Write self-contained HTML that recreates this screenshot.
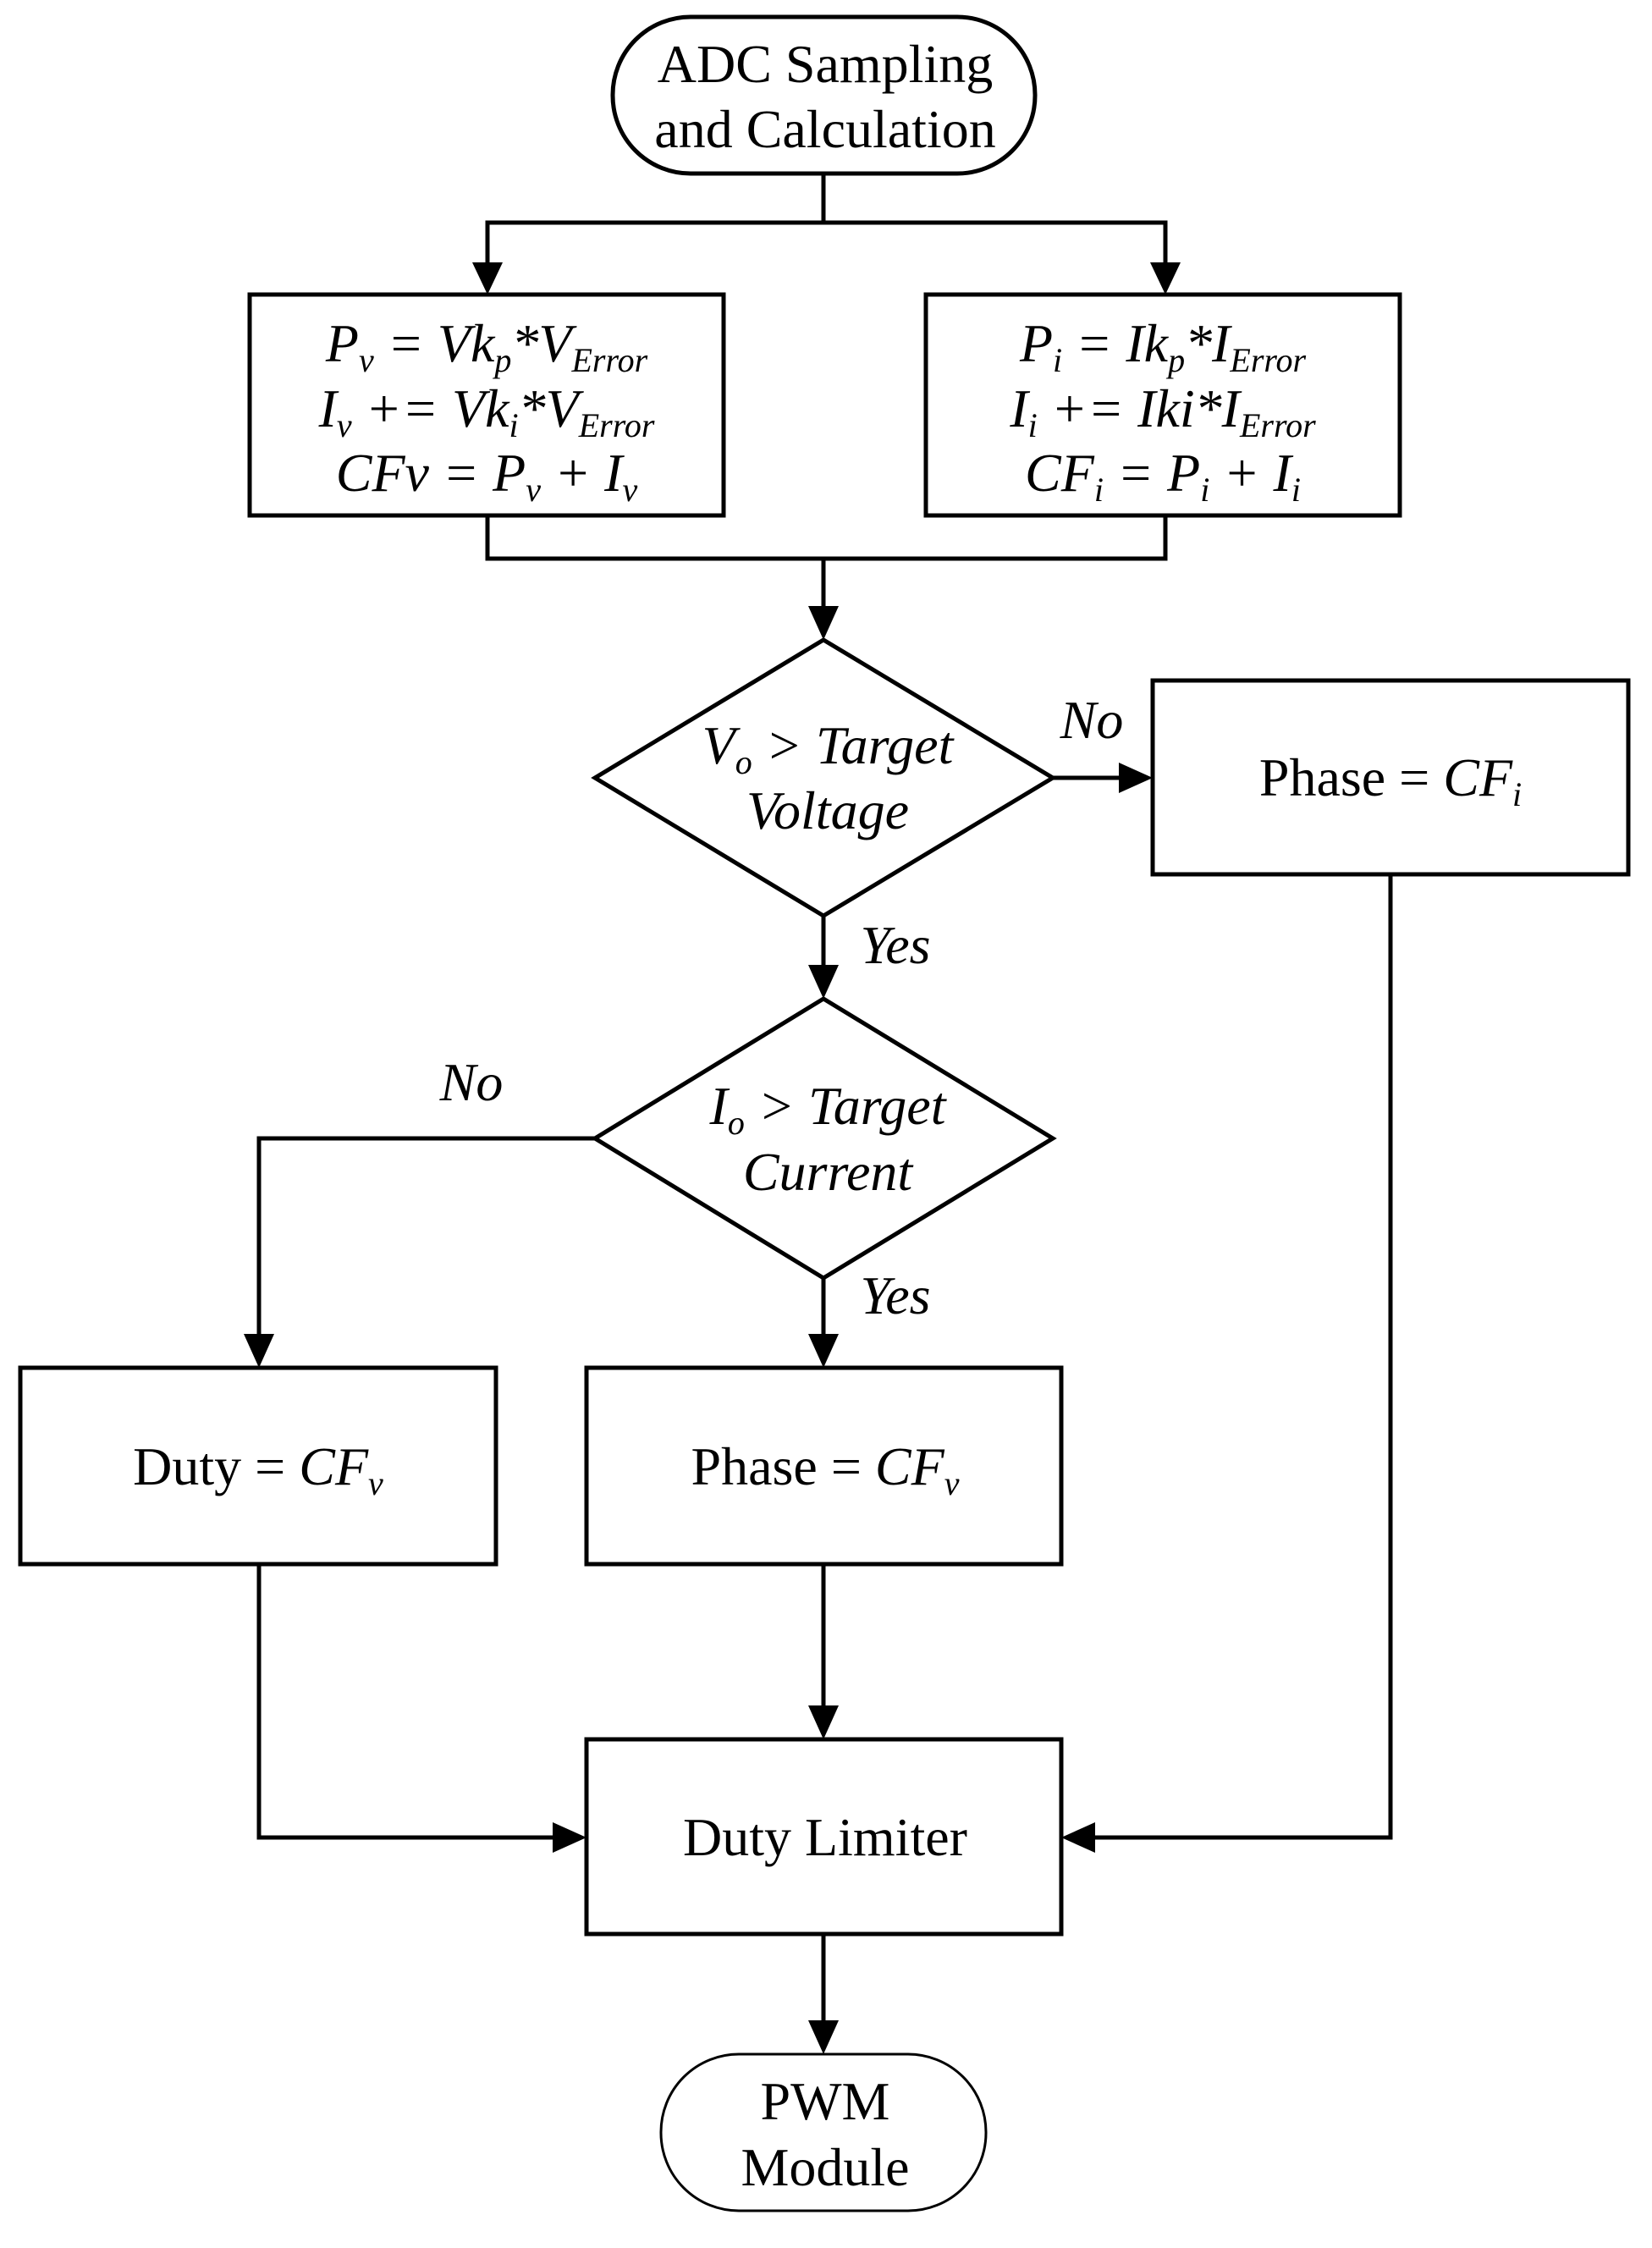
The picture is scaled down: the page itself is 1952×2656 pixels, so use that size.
<!DOCTYPE html>
<html><head><meta charset="utf-8"><style>
html,body{margin:0;padding:0;background:#fff;}
svg{display:block;}
text{font-family:"Liberation Serif",serif;font-size:64px;fill:#000;}
.i{font-style:italic;}
</style></head><body>
<svg width="1952" height="2656" viewBox="0 0 1952 2656" xmlns="http://www.w3.org/2000/svg">
<g fill="none" stroke="#000" stroke-width="5">
<rect x="724" y="20" width="499" height="185" rx="92" ry="92"/>
<rect x="295" y="348" width="560" height="261"/>
<rect x="1094" y="348" width="560" height="261"/>
<polygon points="973,756 1244,919 973,1082 703,919"/>
<rect x="1362" y="804" width="562" height="229"/>
<polygon points="973,1180 1244,1345 973,1510 703,1345"/>
<rect x="24" y="1616" width="562" height="232"/>
<rect x="693" y="1616" width="561" height="232"/>
<rect x="693" y="2055" width="561" height="230"/>
<rect x="781" y="2427" width="384" height="185" rx="92" ry="92" stroke-width="3"/>
<polyline points="973,205 973,263"/>
<polyline points="576,310 576,263 1377,263 1377,310"/>
<polyline points="576,609 576,660 1377,660 1377,609"/>
<polyline points="973,660 973,716"/>
<polyline points="1244,919 1322,919"/>
<polyline points="973,1082 973,1140"/>
<polyline points="703,1345 306,1345 306,1576"/>
<polyline points="973,1510 973,1576"/>
<polyline points="973,1848 973,2015"/>
<polyline points="306,1848 306,2171 653,2171"/>
<polyline points="1643,1033 1643,2171 1294,2171"/>
<polyline points="973,2285 973,2387"/>
</g>
<g fill="#000">
<polygon points="558,310 594,310 576,348"/>
<polygon points="1359,310 1395,310 1377,348"/>
<polygon points="955,716 991,716 973,756"/>
<polygon points="1322,901 1322,937 1362,919"/>
<polygon points="955,1140 991,1140 973,1180"/>
<polygon points="288,1576 324,1576 306,1616"/>
<polygon points="955,1576 991,1576 973,1616"/>
<polygon points="955,2015 991,2015 973,2055"/>
<polygon points="653,2153 653,2189 693,2171"/>
<polygon points="1294,2153 1294,2189 1254,2171"/>
<polygon points="955,2387 991,2387 973,2427"/>
</g>
<g text-anchor="middle">
<text x="975" y="97">ADC Sampling</text>
<text x="975" y="174">and Calculation</text>

<text x="575" y="427" class="i">P<tspan font-size="40" dy="12">v</tspan><tspan dy="-12"> = Vk</tspan><tspan font-size="40" dy="12">p</tspan><tspan dy="-12">*V</tspan><tspan font-size="40" dy="12">Error</tspan></text>
<text x="575" y="504" class="i">I<tspan font-size="40" dy="12">v</tspan><tspan dy="-12"> += Vk</tspan><tspan font-size="40" dy="12">i</tspan><tspan dy="-12">*V</tspan><tspan font-size="40" dy="12">Error</tspan></text>
<text x="575" y="580" class="i">CFv = P<tspan font-size="40" dy="12">v</tspan><tspan dy="-12"> + I</tspan><tspan font-size="40" dy="12">v</tspan></text>

<text x="1374" y="427" class="i">P<tspan font-size="40" dy="12">i</tspan><tspan dy="-12"> = Ik</tspan><tspan font-size="40" dy="12">p</tspan><tspan dy="-12">*I</tspan><tspan font-size="40" dy="12">Error</tspan></text>
<text x="1374" y="504" class="i">I<tspan font-size="40" dy="12">i</tspan><tspan dy="-12"> += Iki*I</tspan><tspan font-size="40" dy="12">Error</tspan></text>
<text x="1374" y="580" class="i">CF<tspan font-size="40" dy="12">i</tspan><tspan dy="-12"> = P</tspan><tspan font-size="40" dy="12">i</tspan><tspan dy="-12"> + I</tspan><tspan font-size="40" dy="12">i</tspan></text>

<text x="978" y="902" class="i">V<tspan font-size="40" dy="12">o</tspan><tspan dy="-12"> &gt; Target</tspan></text>
<text x="978" y="979" class="i">Voltage</text>
<text x="1643" y="940">Phase = <tspan class="i">CF</tspan><tspan class="i" font-size="40" dy="12">i</tspan></text>
<text x="1290" y="872" class="i">No</text>
<text x="1058" y="1138" class="i">Yes</text>

<text x="978" y="1328" class="i">I<tspan font-size="40" dy="12">o</tspan><tspan dy="-12"> &gt; Target</tspan></text>
<text x="978" y="1406" class="i">Current</text>
<text x="557" y="1300" class="i">No</text>
<text x="1058" y="1552" class="i">Yes</text>

<text x="305" y="1754">Duty = <tspan class="i">CF</tspan><tspan class="i" font-size="40" dy="12">v</tspan></text>
<text x="975" y="1754">Phase = <tspan class="i">CF</tspan><tspan class="i" font-size="40" dy="12">v</tspan></text>
<text x="975" y="2192">Duty Limiter</text>
<text x="975" y="2504">PWM</text>
<text x="975" y="2582">Module</text>
</g>
</svg>
</body></html>
